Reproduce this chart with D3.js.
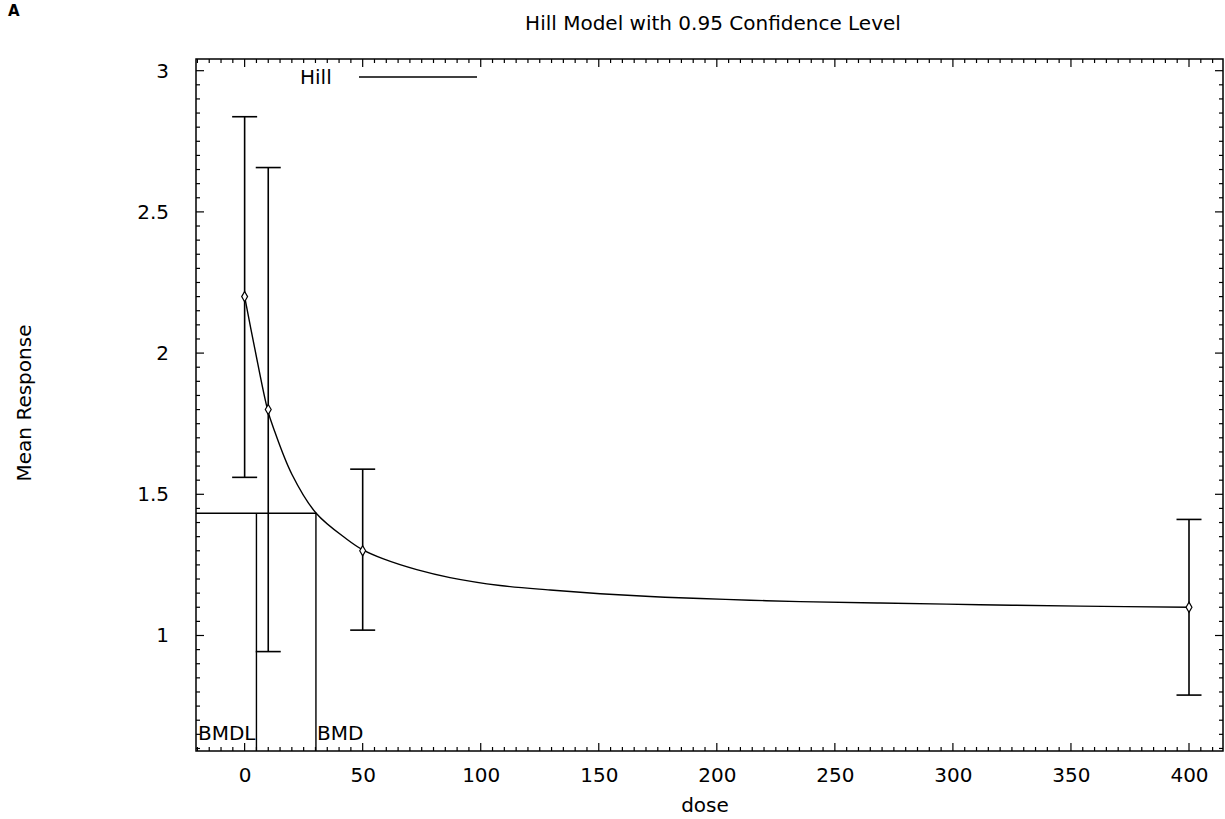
<!DOCTYPE html>
<html>
<head>
<meta charset="utf-8">
<script src="https://cdn.jsdelivr.net/npm/d3@7"></script>
<style>
  body { margin: 0; background: #fff; }
  svg { display: block; }
  text { font-family: "DejaVu Sans", sans-serif; fill: #000; }
</style>
</head>
<body>
<svg id="chart" width="1225" height="819"></svg>
<script>
// observed dose groups with 95% confidence intervals
const doses = [0, 10, 50, 400];
const means = [2.2, 1.8, 1.3, 1.1];
const lower = [1.56, 0.943, 1.019, 0.789];
const upper = [2.837, 2.657, 1.589, 1.411];

// fitted Hill curve
const curveDose = [0, 4.2, 9.7, 12.2, 20, 30.3, 43.3, 50.1, 58.8, 72.9, 87, 108.2, 129.4, 150.6, 171.8, 193, 214.1, 235.3, 269.2, 311.5, 353.9, 400];
const curveResp = [2.2, 2.02, 1.8, 1.735, 1.571, 1.433, 1.341, 1.303, 1.271, 1.233, 1.205, 1.177, 1.161, 1.148, 1.138, 1.131, 1.125, 1.12, 1.115, 1.109, 1.104, 1.1];

// benchmark dose lines
const bmdl = 5.0;
const bmd = 30.2;
const bmrResp = 1.433;

const xTicks = [0, 50, 100, 150, 200, 250, 300, 350, 400];
const yTicks = [1, 1.5, 2, 2.5, 3];

const svg = d3.select("#chart");
const margin = { top: 59, bottom: 68, left: 196, right: 2 };
const width = +svg.attr("width");
const height = +svg.attr("height");
const innerWidth = width - margin.left - margin.right;
const innerHeight = height - margin.top - margin.bottom;

const g = svg.append("g")
  .attr("transform", `translate(${margin.left}, ${margin.top})`);

const xScale = d3.scaleLinear()
  .domain([-20.6, 414.4])
  .range([0, innerWidth]);

const yScale = d3.scaleLinear()
  .domain([0.591, 3.0414])
  .range([innerHeight, 0]);

const xMinor = d3.range(-20, 415, 5).filter(d => !xTicks.includes(d));
const yMinor = d3.range(0.6, 3.04, 0.05).map(d => +d.toFixed(2)).filter(d => !yTicks.includes(d));

// inward ticks on all four sides, no labels
const tickG = g.append("g").attr("stroke", "#000").attr("stroke-width", 1.2);
const addX = (vals, len) => {
  vals.forEach(v => {
    const x = xScale(v);
    tickG.append("line").attr("x1", x).attr("x2", x).attr("y1", innerHeight).attr("y2", innerHeight - len);
    tickG.append("line").attr("x1", x).attr("x2", x).attr("y1", 0).attr("y2", len);
  });
};
const addY = (vals, len) => {
  vals.forEach(v => {
    const y = yScale(v);
    tickG.append("line").attr("x1", 0).attr("x2", len).attr("y1", y).attr("y2", y);
    tickG.append("line").attr("x1", innerWidth).attr("x2", innerWidth - len).attr("y1", y).attr("y2", y);
  });
};
addX(xMinor, 4);
addX(xTicks, 8);
addY(yMinor, 4);
addY(yTicks, 8);

// axes for labels only
const xAxis = d3.axisBottom(xScale)
  .tickValues(xTicks)
  .tickSize(0)
  .tickPadding(17);
const yAxis = d3.axisLeft(yScale)
  .tickValues(yTicks)
  .tickFormat(d3.format("~g"))
  .tickSize(0)
  .tickPadding(27);

const xAxisG = g.append("g")
  .attr("transform", `translate(0, ${innerHeight})`)
  .call(xAxis);
const yAxisG = g.append("g").call(yAxis);
[xAxisG, yAxisG].forEach(a => {
  a.select(".domain").remove();
  a.selectAll("text").attr("font-size", 20).attr("font-family", "DejaVu Sans");
});

// frame
g.append("rect")
  .attr("width", innerWidth)
  .attr("height", innerHeight)
  .attr("fill", "none")
  .attr("stroke", "#000")
  .attr("stroke-width", 1.5);

// BMD / BMDL markers
g.append("path")
  .attr("fill", "none")
  .attr("stroke", "#000")
  .attr("stroke-width", 1.4)
  .attr("d", `M0,${yScale(bmrResp)}H${xScale(bmd)}V${innerHeight}` +
    `M${xScale(bmdl)},${yScale(bmrResp)}V${innerHeight}`);

g.append("text")
  .attr("x", xScale(bmdl) - 1)
  .attr("y", innerHeight - 11)
  .attr("text-anchor", "end")
  .attr("font-size", 20)
  .text("BMDL");
g.append("text")
  .attr("x", xScale(bmd) + 1)
  .attr("y", innerHeight - 11)
  .attr("font-size", 20)
  .text("BMD");

// fitted curve
const line = d3.line()
  .x(i => xScale(curveDose[i]))
  .y(i => yScale(curveResp[i]))
  .curve(d3.curveCatmullRom.alpha(0.5));
g.append("path")
  .attr("fill", "none")
  .attr("stroke", "#000")
  .attr("stroke-width", 1.4)
  .attr("d", line(d3.range(curveDose.length)));

// error bars
const capHalf = 12.5;
const bars = g.selectAll(".err")
  .data(d3.range(doses.length))
  .enter()
  .append("g")
  .attr("class", "err")
  .attr("stroke", "#000")
  .attr("stroke-width", 1.6);
bars.append("line")
  .attr("x1", i => xScale(doses[i]))
  .attr("x2", i => xScale(doses[i]))
  .attr("y1", i => yScale(lower[i]))
  .attr("y2", i => yScale(upper[i]));
bars.append("line")
  .attr("x1", i => xScale(doses[i]) - capHalf)
  .attr("x2", i => xScale(doses[i]) + capHalf)
  .attr("y1", i => yScale(upper[i]))
  .attr("y2", i => yScale(upper[i]));
bars.append("line")
  .attr("x1", i => xScale(doses[i]) - capHalf)
  .attr("x2", i => xScale(doses[i]) + capHalf)
  .attr("y1", i => yScale(lower[i]))
  .attr("y2", i => yScale(lower[i]));

// mean markers
g.selectAll(".pt")
  .data(d3.range(doses.length))
  .enter()
  .append("path")
  .attr("class", "pt")
  .attr("transform", i => `translate(${xScale(doses[i])}, ${yScale(means[i])})`)
  .attr("d", d3.symbol(d3.symbolDiamond, 30))
  .attr("fill", "#fff")
  .attr("stroke", "#000")
  .attr("stroke-width", 1.2);

// legend
g.append("text")
  .attr("x", 300 - margin.left)
  .attr("y", 84 - margin.top)
  .attr("font-size", 20)
  .text("Hill");
g.append("line")
  .attr("x1", 359 - margin.left)
  .attr("x2", 477 - margin.left)
  .attr("y1", 77 - margin.top)
  .attr("y2", 77 - margin.top)
  .attr("stroke", "#000")
  .attr("stroke-width", 1.4);

// titles
svg.append("text")
  .attr("x", 713)
  .attr("y", 30)
  .attr("text-anchor", "middle")
  .attr("font-size", 20)
  .text("Hill Model with 0.95 Confidence Level");

svg.append("text")
  .attr("x", 8)
  .attr("y", 16)
  .attr("font-size", 15)
  .attr("font-weight", "bold")
  .text("A");

svg.append("text")
  .attr("transform", "translate(31, 403) rotate(-90)")
  .attr("text-anchor", "middle")
  .attr("font-size", 20)
  .text("Mean Response");

svg.append("text")
  .attr("x", 705)
  .attr("y", 812)
  .attr("text-anchor", "middle")
  .attr("font-size", 20)
  .text("dose");
</script>
</body>
</html>
